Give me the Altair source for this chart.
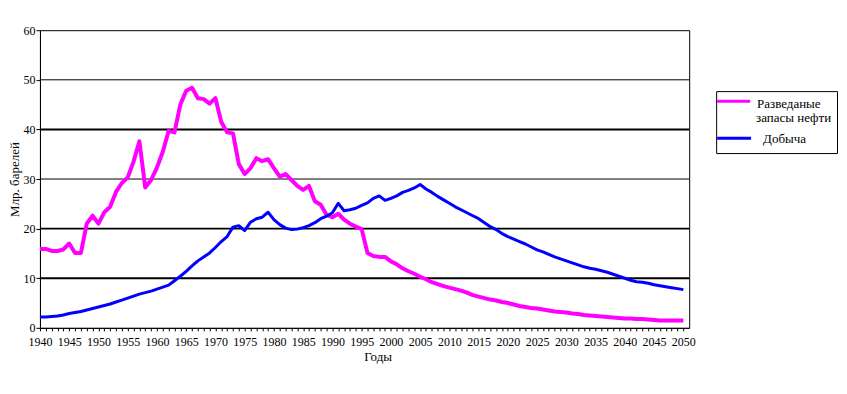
import altair as alt
import pandas as pd

years = list(range(1940, 2051))

reserves = [
    15.9, 15.9, 15.5, 15.5, 15.8, 17.0, 15.1, 15.1, 21.0, 22.6,
    21.0, 23.3, 24.4, 27.4, 29.2, 30.3, 33.5, 37.6, 28.3, 29.8,
    32.3, 35.5, 39.7, 39.4, 45.0, 47.8, 48.4, 46.3, 46.1, 45.2,
    46.3, 41.5, 39.4, 39.2, 33.0, 31.0, 32.2, 34.2, 33.6, 34.0,
    32.2, 30.5, 31.0, 29.8, 28.6, 27.8, 28.6, 25.5, 24.8, 22.8,
    22.3, 23.0, 21.8, 21.0, 20.4, 19.9, 15.1, 14.5, 14.3, 14.3,
    13.4, 12.8, 12.0, 11.4, 10.9, 10.3, 9.8, 9.2, 8.8, 8.4,
    8.1, 7.8, 7.5, 7.1, 6.6, 6.3, 6.0, 5.7, 5.5, 5.2,
    5.0, 4.7, 4.4, 4.2, 4.0, 3.9, 3.7, 3.5, 3.3, 3.2,
    3.1, 2.9, 2.8, 2.6, 2.5, 2.4, 2.3, 2.2, 2.1, 2.0,
    1.9, 1.9, 1.8, 1.8, 1.7, 1.6, 1.5, 1.5, 1.5, 1.5,
    1.5,
]

production = [
    2.2, 2.2, 2.3, 2.4, 2.6, 2.9, 3.1, 3.3, 3.6, 3.9,
    4.2, 4.5, 4.8, 5.2, 5.6, 6.0, 6.4, 6.8, 7.1, 7.4,
    7.8, 8.2, 8.6, 9.5, 10.4, 11.4, 12.5, 13.5, 14.3, 15.1,
    16.2, 17.4, 18.4, 20.3, 20.6, 19.6, 21.3, 22.0, 22.3, 23.3,
    21.8, 20.8, 20.1, 19.8, 19.9, 20.2, 20.6, 21.2, 22.0, 22.5,
    23.2, 25.1, 23.6, 23.8, 24.1, 24.7, 25.2, 26.1, 26.6, 25.7,
    26.1, 26.6, 27.3, 27.7, 28.2, 28.9, 28.0, 27.3, 26.5, 25.8,
    25.1, 24.4, 23.8, 23.2, 22.6, 22.0, 21.2, 20.4, 19.8, 19.0,
    18.4, 17.9, 17.4, 16.9, 16.3, 15.7, 15.3, 14.8, 14.3, 13.9,
    13.5, 13.1, 12.7, 12.3, 12.0, 11.8, 11.5, 11.2, 10.8, 10.4,
    10.0, 9.6, 9.3, 9.2, 9.0, 8.7, 8.5, 8.3, 8.1, 7.9,
    7.7,
]

series_names = ["Разведаные запасы нефти", "Добыча"]
series_colors = ["#FF00FF", "#0000FF"]
legend_lines = ["Разведаные", "запасы нефти", "Добыча"]
thick_grid = [10, 20, 40]
thin_grid = [30, 50]
x_ticks = years
y_ticks = [0, 10, 20, 30, 40, 50, 60]

df = pd.DataFrame({
    "year": years * 2,
    "value": reserves + production,
    "series": [series_names[0]] * len(years) + [series_names[1]] * len(years),
})

FONT = "Liberation Serif"

x_scale = alt.Scale(domain=[1940, 2051], nice=False, zero=False)
y_scale = alt.Scale(domain=[0, 60], nice=False)

thick = alt.Chart(pd.DataFrame({"v": thick_grid})).mark_rule(
    color="black", strokeWidth=2
).encode(y=alt.Y("v:Q", scale=y_scale))

thin = alt.Chart(pd.DataFrame({"v": thin_grid})).mark_rule(
    color="black", strokeWidth=1
).encode(y=alt.Y("v:Q", scale=y_scale))

lines = alt.Chart(df).mark_line(strokeJoin="round").encode(
    x=alt.X(
        "year:Q",
        scale=x_scale,
        axis=alt.Axis(
            title="Годы",
            values=x_ticks,
            labelExpr="datum.value % 5 == 0 ? datum.label : ''",
            format="d",
            labelOverlap=False,
            labelFlush=False,
            tickSize=3,
            tickColor="black",
            domainColor="black",
            labelColor="black",
            labelFont=FONT,
            labelFontSize=12,
            labelPadding=6,
            titleFont=FONT,
            titleFontSize=13,
            titleFontWeight="normal",
            titleColor="black",
            titleX=338,
            titlePadding=3,
            grid=False,
        ),
    ),
    y=alt.Y(
        "value:Q",
        scale=y_scale,
        axis=alt.Axis(
            title="Млр. барелей",
            values=y_ticks,
            tickSize=4,
            tickColor="black",
            domainColor="black",
            labelColor="black",
            labelFont=FONT,
            labelFontSize=12,
            labelPadding=1,
            titleFont=FONT,
            titleFontSize=13,
            titleFontWeight="normal",
            titleColor="black",
            titlePadding=1,
            grid=False,
        ),
    ),
    color=alt.Color(
        "series:N",
        scale=alt.Scale(domain=series_names, range=series_colors),
        legend=None,
    ),
    strokeWidth=alt.StrokeWidth(
        "series:N",
        scale=alt.Scale(domain=series_names, range=[4, 3]),
        legend=None,
    ),
)

# legend (drawn as a boxed key to the right of the plot)
legend_box = alt.Chart(pd.DataFrame({"k": [0]})).mark_rect(
    fill="white", stroke="black", strokeWidth=1
).encode(
    x=alt.value(677.5), x2=alt.value(798.5),
    y=alt.value(61.5), y2=alt.value(123.5),
)

key_reserves = alt.Chart(pd.DataFrame({"k": [0]})).mark_rule(
    color=series_colors[0], strokeWidth=3
).encode(x=alt.value(678), x2=alt.value(711), y=alt.value(71.2))

key_production = alt.Chart(pd.DataFrame({"k": [0]})).mark_rule(
    color=series_colors[1], strokeWidth=3
).encode(x=alt.value(678), x2=alt.value(712), y=alt.value(108.3))


def legend_text(txt, x, y):
    return alt.Chart(pd.DataFrame({"t": [txt]})).mark_text(
        font=FONT, fontSize=13, color="black", align="left", baseline="alphabetic"
    ).encode(text="t:N", x=alt.value(x), y=alt.value(y))


chart = alt.layer(
    thick, thin, lines,
    legend_box, key_reserves, key_production,
    legend_text(legend_lines[0], 718, 78),
    legend_text(legend_lines[1], 717, 91.5),
    legend_text(legend_lines[2], 724, 112.5),
).properties(
    width=650,
    height=298,
    autosize=alt.AutoSizeParams(type="none"),
    padding={"left": 32, "top": 22, "right": 150, "bottom": 50},
    background="white",
).configure_view(stroke="black", strokeWidth=1)

chart.save("out.html", embed_options={"renderer": "svg", "actions": False})
